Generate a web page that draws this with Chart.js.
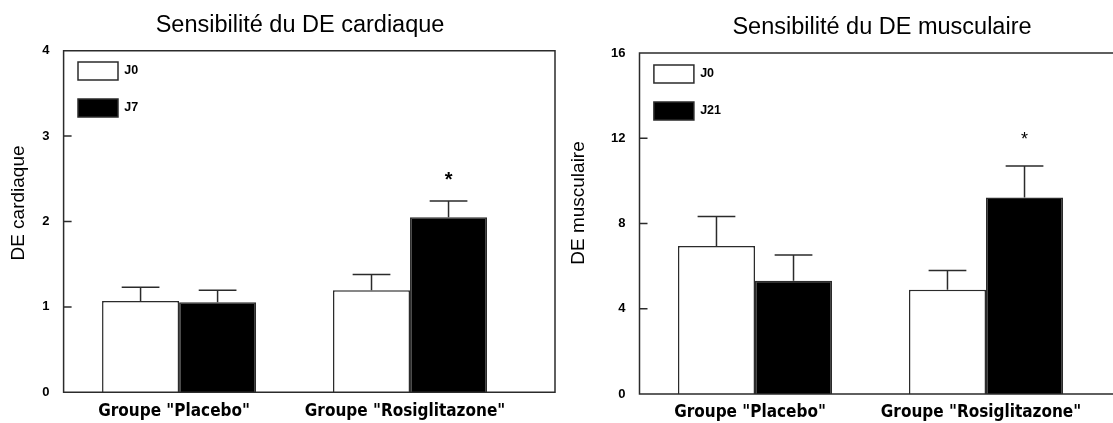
<!DOCTYPE html>
<html>
<head>
<meta charset="utf-8">
<script src="https://cdn.jsdelivr.net/npm/chart.js@4.4.1/dist/chart.umd.min.js"></script>
<style>
  html, body { margin: 0; padding: 0; background: #ffffff; width: 1113px; height: 423px; overflow: hidden; }
  canvas { position: absolute; top: 0; display: block; }
  #c1 { left: 0; }
  #c2 { left: 560px; }
</style>
</head>
<body>
<canvas id="c1" width="560" height="423"></canvas>
<canvas id="c2" width="553" height="423"></canvas>
<script>
// ---------------- data ----------------
const categories = ['Groupe "Placebo"', 'Groupe "Rosiglitazone"'];

// cardiac chart
const cardTitle = 'Sensibilité du DE cardiaque';
const cardAxisTitle = 'DE cardiaque';
const cardSeries = ['J0', 'J7'];
const cardJ0 = [1.07, 1.195];
const cardJ7 = [1.055, 2.05];
const cardJ0Err = [0.16, 0.185];
const cardJ7Err = [0.14, 0.19];
const cardJ0Sig = ['', ''];
const cardJ7Sig = ['', '*'];
const cardTicks = [0, 1, 2, 3, 4];

// muscle chart
const muscTitle = 'Sensibilité du DE musculaire';
const muscAxisTitle = 'DE musculaire';
const muscSeries = ['J0', 'J21'];
const muscJ0 = [6.95, 4.89];
const muscJ21 = [5.31, 9.22];
const muscJ0Err = [1.38, 0.91];
const muscJ21Err = [1.21, 1.48];
const muscJ0Sig = ['', ''];
const muscJ21Sig = ['', '*'];
const muscTicks = [0, 4, 8, 12, 16];

// ---------------- drawing helpers ----------------
const LINE = '#2b2b2b';
const SANS = "'Liberation Sans', Arial, sans-serif";
const XFONT = "'DejaVu Sans Condensed', 'Liberation Sans', Arial, sans-serif";

const decorPlugin = {
  id: 'decor',
  afterLayout(chart, args, o) {
    const t = chart.titleBlock;
    if (t) { t.left += o.titleDx; t.right += o.titleDx; }
    const lg = chart.legend;
    const ca = chart.chartArea;
    if (lg) {
      const w = lg.width, h = lg.height;
      lg.left = ca.left + o.legendDx; lg.right = lg.left + w;
      lg.top = ca.top + o.legendDy; lg.bottom = lg.top + h;
    }
  },
  afterDatasetsDraw(chart, args, o) {
    const ctx = chart.ctx;
    const ys = chart.scales.y;
    ctx.save();
    chart.data.datasets.forEach((ds, di) => {
      const meta = chart.getDatasetMeta(di);
      meta.data.forEach((bar, i) => {
        const v = ds.data[i];
        const e = o.errors[di][i];
        const yTop = ys.getPixelForValue(v + e);
        const half = bar.width * o.capRatio / 2;
        ctx.strokeStyle = LINE;
        ctx.lineWidth = o.errWidth;
        ctx.beginPath();
        ctx.moveTo(bar.x, bar.y);
        ctx.lineTo(bar.x, yTop);
        ctx.moveTo(bar.x - half, yTop);
        ctx.lineTo(bar.x + half, yTop);
        ctx.stroke();
        const s = o.sig[di][i];
        if (s) {
          ctx.fillStyle = '#000';
          ctx.font = o.sigFont;
          ctx.textAlign = 'center';
          ctx.textBaseline = 'alphabetic';
          ctx.fillText(s, bar.x, yTop - o.sigGap);
        }
      });
    });
    ctx.restore();
  },
  afterDraw(chart, args, o) {
    const ctx = chart.ctx;
    const ca = chart.chartArea;
    const ys = chart.scales.y;
    ctx.save();
    ctx.strokeStyle = LINE;
    ctx.lineWidth = o.frameWidth;
    const r = ca.right + o.frameExtra;
    ctx.beginPath();
    ctx.rect(ca.left, ca.top, r - ca.left, ca.bottom - ca.top);
    ys.ticks.forEach(t => {
      const y = ys.getPixelForValue(t.value);
      ctx.moveTo(ca.left, y);
      ctx.lineTo(ca.left + o.tickLen, y);
    });
    ctx.stroke();
    // y axis title
    ctx.translate(o.yTitleX, o.yTitleY);
    ctx.rotate(-Math.PI / 2);
    ctx.font = o.yTitleFont;
    ctx.fillStyle = '#000';
    ctx.textAlign = 'center';
    ctx.textBaseline = 'middle';
    ctx.fillText(o.yTitle, 0, 0);
    ctx.restore();
  }
};

function buildChart(id, c) {
  return new Chart(document.getElementById(id), {
    type: 'bar',
    data: {
      labels: categories,
      datasets: c.series.map((name, k) => ({
        label: name,
        data: c.values[k],
        backgroundColor: c.fills[k],
        borderColor: LINE,
        borderWidth: 1.5,
        categoryPercentage: 0.667,
        barPercentage: 1.0
      }))
    },
    options: {
      responsive: false,
      animation: false,
      devicePixelRatio: 1,
      events: [],
      layout: { padding: { left: 0, right: c.padRight, top: 0, bottom: 0 } },
      scales: {
        x: {
          type: 'category',
          offset: true,
          grid: { display: false, drawTicks: false },
          border: { display: false },
          ticks: {
            color: '#000',
            font: { family: XFONT, size: 17, weight: 'bold' },
            padding: c.xPad,
            maxRotation: 0,
            autoSkip: false,
            labelOffset: -5
          },
          afterFit: s => { s.height = c.xHeight; }
        },
        y: {
          min: 0,
          max: c.ticks[c.ticks.length - 1],
          grid: { display: false, drawTicks: false },
          border: { display: false },
          ticks: {
            color: '#000',
            font: { family: SANS, size: 13, weight: 'bold' },
            padding: 14
          },
          afterBuildTicks: s => { s.ticks = c.ticks.map(v => ({ value: v })); },
          afterFit: s => { s.width = c.yWidth; }
        }
      },
      plugins: {
        title: {
          display: true,
          text: c.title,
          fullSize: false,
          color: '#000',
          font: { family: SANS, size: 23.5, weight: 'normal', lineHeight: 1.2 },
          padding: { top: c.titlePadTop, bottom: c.titlePadBottom }
        },
        legend: {
          display: true,
          position: 'chartArea',
          align: 'start',
          labels: {
            boxWidth: 40,
            boxHeight: 18,
            padding: 19,
            color: '#000',
            font: { family: SANS, size: 12.5, weight: 'bold' }
          }
        },
        tooltip: { enabled: false },
        decor: {
          titleDx: c.titleDx,
          legendDx: -4.6,
          legendDy: c.legendDy,
          errors: c.errors,
          sig: c.sig,
          capRatio: 0.49,
          errWidth: 1.5,
          sigFont: c.sigFont,
          sigGap: c.sigGap,
          frameWidth: 1.5,
          frameExtra: 29.5,
          tickLen: 8,
          yTitle: c.axisTitle,
          yTitleX: 18.5,
          yTitleY: 203,
          yTitleFont: "normal 19px " + SANS
        }
      }
    },
    plugins: [decorPlugin]
  });
}

buildChart('c1', {
  title: cardTitle,
  axisTitle: cardAxisTitle,
  series: cardSeries,
  values: [cardJ0, cardJ7],
  errors: [cardJ0Err, cardJ7Err],
  sig: [cardJ0Sig, cardJ7Sig],
  ticks: cardTicks,
  fills: ['#ffffff', '#000000'],
  padRight: 34.5,
  yWidth: 63.6,
  xHeight: 30.7,
  xPad: 9,
  titlePadTop: 11.4,
  titlePadBottom: 11.1,
  titleDx: 5.5,
  legendDy: -7.7,
  sigFont: "bold 20px " + SANS,
  sigGap: 15.5
});

buildChart('c2', {
  title: muscTitle,
  axisTitle: muscAxisTitle,
  series: muscSeries,
  values: [muscJ0, muscJ21],
  errors: [muscJ0Err, muscJ21Err],
  sig: [muscJ0Sig, muscJ21Sig],
  ticks: muscTicks,
  fills: ['#ffffff', '#000000'],
  padRight: 11.5,
  yWidth: 79.5,
  xHeight: 29,
  xPad: 8,
  titlePadTop: 13.4,
  titlePadBottom: 11.4,
  titleDx: 11.5,
  legendDy: -7,
  sigFont: "normal 18px " + SANS,
  sigGap: 21
});
</script>
</body>
</html>
